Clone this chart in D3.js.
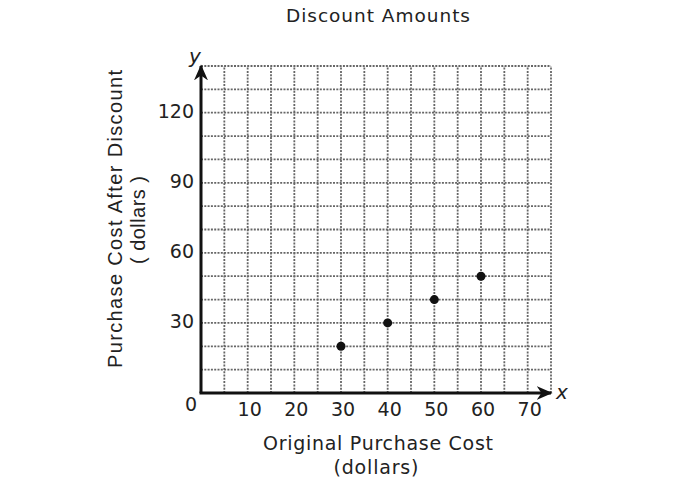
<!DOCTYPE html>
<html><head><meta charset="utf-8">
<script src="https://cdn.jsdelivr.net/npm/d3@7"></script>
<style>body{margin:0;background:#fff}svg{display:block}text{font-family:"DejaVu Sans",Verdana,sans-serif;fill:#222}</style>
</head><body>
<svg id="c" width="690" height="486"></svg>
<script>
const xValues = [30, 40, 50, 60];
const yValues = [20, 30, 40, 50];
const xTickLabels = [10, 20, 30, 40, 50, 60, 70];
const yTickLabels = [30, 60, 90, 120];
const xGrid = d3.range(5, 80, 5);
const yGrid = d3.range(10, 150, 10);

const svg = d3.select("#c");
const x = d3.scaleLinear().domain([0, 75]).range([201, 551]);
const y = d3.scaleLinear().domain([0, 140]).range([393, 66]);

// grid
const g = svg.append("g").attr("stroke", "#666").attr("stroke-width", 1.8).attr("stroke-dasharray", "2,1.3");
g.selectAll(".v").data(xGrid).enter().append("line")
  .attr("x1", d => x(d)).attr("x2", d => x(d)).attr("y1", y(0)).attr("y2", y(140));
g.selectAll(".h").data(yGrid).enter().append("line")
  .attr("x1", x(0)).attr("x2", x(75)).attr("y1", d => y(d)).attr("y2", d => y(d));

// axes
const defs = svg.append("defs");
defs.append("marker").attr("id", "arr").attr("viewBox", "0 0 10 10").attr("refX", 9).attr("refY", 5)
  .attr("markerWidth", 16).attr("markerHeight", 14).attr("markerUnits", "userSpaceOnUse").attr("orient", "auto")
  .attr("preserveAspectRatio", "none")
  .append("path").attr("d", "M0,0 L10,5 L0,10 L3,5 Z").attr("fill", "#111");
svg.append("line").attr("x1", x(0) - 1.5).attr("x2", 551).attr("y1", y(0)).attr("y2", y(0))
  .attr("stroke", "#111").attr("stroke-width", 3).attr("marker-end", "url(#arr)");
svg.append("line").attr("x1", x(0)).attr("x2", x(0)).attr("y1", y(0)).attr("y2", 66)
  .attr("stroke", "#111").attr("stroke-width", 3).attr("marker-end", "url(#arr)");

// tick labels
svg.selectAll(".xt").data(xTickLabels).enter().append("text")
  .attr("x", d => x(d) + 2).attr("y", 416).attr("text-anchor", "middle").attr("font-size", 19).text(d => d);
svg.selectAll(".yt").data(yTickLabels).enter().append("text")
  .attr("x", 194).attr("y", d => y(d) + 5).attr("text-anchor", "end").attr("font-size", 19).text(d => d);
svg.append("text").attr("x", 191).attr("y", 411).attr("text-anchor", "middle").attr("font-size", 19).text("0");
svg.append("text").attr("x", 556).attr("y", 399).attr("font-size", 20).attr("font-style", "italic").text("x");
svg.append("text").attr("x", 195).attr("y", 63).attr("text-anchor", "middle").attr("font-size", 20).attr("font-style", "italic").text("y");

// points
svg.selectAll(".pt").data(xValues).enter().append("circle")
  .attr("cx", d => x(d)).attr("cy", (d, i) => y(yValues[i])).attr("r", 4.5).attr("fill", "#111");

// titles
svg.append("text").attr("x", 378).attr("y", 22).attr("text-anchor", "middle").attr("font-size", 18.5)
  .attr("textLength", 184).attr("lengthAdjust", "spacing").text("Discount Amounts");
svg.append("text").attr("x", 378).attr("y", 450).attr("text-anchor", "middle").attr("font-size", 19)
  .attr("textLength", 230).attr("lengthAdjust", "spacing").text("Original Purchase Cost");
svg.append("text").attr("x", 376).attr("y", 474).attr("text-anchor", "middle").attr("font-size", 19)
  .attr("textLength", 85).attr("lengthAdjust", "spacing").text("(dollars)");
svg.append("text").attr("transform", "translate(122,219) rotate(-90)").attr("text-anchor", "middle")
  .style("font-family", "'Liberation Sans', Arial, sans-serif").attr("font-size", 20)
  .attr("textLength", 298).attr("lengthAdjust", "spacing").text("Purchase Cost After Discount");
svg.append("text").attr("transform", "translate(145,220) rotate(-90)").attr("text-anchor", "middle")
  .style("font-family", "'Liberation Sans', Arial, sans-serif").attr("font-size", 20)
  .attr("textLength", 88).attr("lengthAdjust", "spacing").text("( dollars )");
</script>
</body></html>
